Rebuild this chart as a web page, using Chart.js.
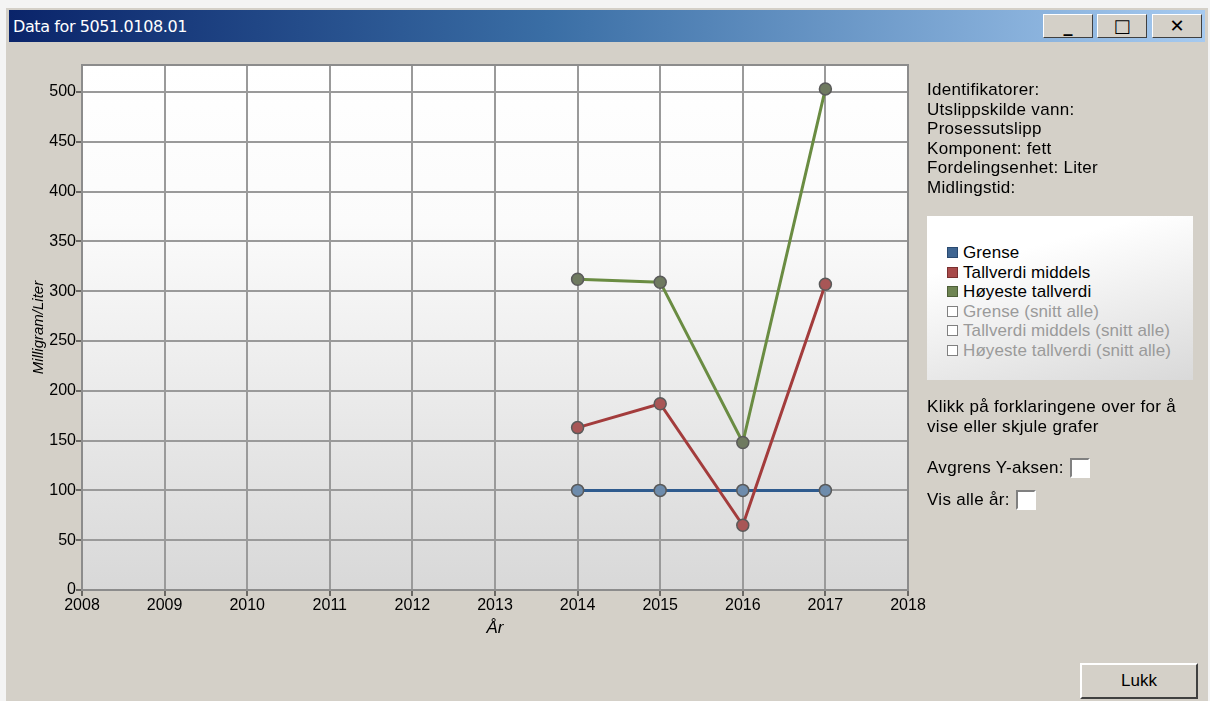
<!DOCTYPE html>
<html>
<head>
<meta charset="utf-8">
<script src="https://cdn.jsdelivr.net/npm/chart.js@4"></script>
<style>
  body { margin: 0; width: 1210px; height: 701px; background: #f4f4f4; overflow: hidden; font-family: "Liberation Sans", Arial, sans-serif; }
  #win { position: absolute; left: 6px; top: 8px; width: 1202px; height: 700px; background: #d4d0c8; }
  #titlebar { position: absolute; left: 3px; top: 2px; width: 1196px; height: 32px;
    background: linear-gradient(to right, #0a246a 0%, #3a6ea5 45%, #a6caf0 100%); }
  #titlebar span { position: absolute; left: 4px; top: 7px; color: #fff; font: 16px "DejaVu Sans", sans-serif; letter-spacing: -0.4px; }
  .tb { position: absolute; top: 4px; width: 50px; height: 24px; background: #d4d0c8;
    border: 1px solid #fff; border-right-color: #404040; border-bottom-color: #404040; box-sizing: border-box;
    font: bold 18px "DejaVu Sans", sans-serif; text-align: center; line-height: 22px; color: #000; }
  #canvasWrap { position: absolute; left: 8px; top: 42px; width: 920px; height: 620px; }
  .info { position: absolute; left: 927px; color: #000; font-size: 17px; line-height: 19.6px; letter-spacing: 0.3px; white-space: nowrap; }
  #legend { position: absolute; left: 927px; top: 216px; width: 266px; height: 164px;
    background: linear-gradient(165deg, #ffffff 25%, #d9d9d9 100%); }
  .li { position: absolute; left: 20px; font-size: 17px; line-height: 19.6px; white-space: nowrap; letter-spacing: 0.1px; }
  .li i { display: inline-block; width: 11px; height: 11px; margin-right: 5px; vertical-align: 0px; box-sizing: border-box; }
  .cb { display: inline-block; width: 20px; height: 20px; background: #fff; box-sizing: border-box;
    border: 2px solid #808080; border-right-color: #fff; border-bottom-color: #fff; vertical-align: -5px; margin-left: 6px; }
  #lukk { position: absolute; left: 1080px; top: 663px; width: 118px; height: 36px; background: #d4d0c8;
    border: 2px solid #fff; border-right-color: #404040; border-bottom-color: #404040; box-sizing: border-box;
    text-align: center; line-height: 32px; font-size: 17px; }
</style>
</head>
<body>
<div id="win">
  <div id="titlebar"><span>Data for 5051.0108.01</span>
    <div class="tb" style="left:1034px">_</div>
    <div class="tb" style="left:1088px">&#9633;</div>
    <div class="tb" style="left:1143px">&#10005;</div>
  </div>
</div>
<div id="canvasWrap"><canvas id="chart" width="920" height="620"></canvas></div>

<div class="info" style="top:80px">Identifikatorer:<br>Utslippskilde vann:<br>Prosessutslipp<br>Komponent: fett<br>Fordelingsenhet: Liter<br>Midlingstid:</div>

<div id="legend">
  <div class="li" style="top:27px"><i style="background:#3f6591;border:1px solid #2a4a70"></i>Grense</div>
  <div class="li" style="top:46.6px"><i style="background:#a84a4a;border:1px solid #7a3030"></i>Tallverdi middels</div>
  <div class="li" style="top:66.2px"><i style="background:#6e8452;border:1px solid #4d5e38"></i>Høyeste tallverdi</div>
  <div class="li" style="top:85.8px;color:#9a9a9a"><i style="border:1px solid #808080;background:#fff"></i>Grense (snitt alle)</div>
  <div class="li" style="top:105.4px;color:#9a9a9a"><i style="border:1px solid #808080;background:#fff"></i>Tallverdi middels (snitt alle)</div>
  <div class="li" style="top:125px;color:#9a9a9a"><i style="border:1px solid #808080;background:#fff"></i>Høyeste tallverdi (snitt alle)</div>
</div>

<div class="info" style="top:397px">Klikk på forklaringene over for å<br>vise eller skjule grafer</div>
<div class="info" style="top:458px">Avgrens Y-aksen:<span class="cb"></span></div>
<div class="info" style="top:490px">Vis alle år:<span class="cb"></span></div>
<div id="lukk">Lukk</div>

<script>
const years = [2014, 2015, 2016, 2017];
const grense = [100, 100, 100, 100];
const tallverdiMiddels = [163, 187, 65, 307];
const hoyesteTallverdi = [312, 309, 148, 503];
const yTicks = [0, 50, 100, 150, 200, 250, 300, 350, 400, 450, 500];
const xMin = 2008, xMax = 2018, yMax = 527;

const pts = vals => vals.map((v, i) => ({ x: years[i], y: v }));

const plotBg = {
  id: "plotBg",
  beforeDraw(chart) {
    const { ctx, chartArea: a } = chart;
    const g = ctx.createLinearGradient(0, a.top, 0, a.bottom);
    g.addColorStop(0, "#ffffff");
    g.addColorStop(0.3, "#fbfbfb");
    g.addColorStop(1, "#d8d8d8");
    ctx.save();
    ctx.fillStyle = g;
    ctx.fillRect(a.left, a.top, a.right - a.left, a.bottom - a.top);
    ctx.restore();
  },
  afterDraw(chart) {
    const { ctx, chartArea: a } = chart;
    ctx.save();
    ctx.strokeStyle = "#8c8c8c";
    ctx.lineWidth = 2;
    ctx.strokeRect(a.left, a.top, a.right - a.left, a.bottom - a.top);
    ctx.restore();
  }
};

const font = { family: "'Liberation Sans', Arial, sans-serif", size: 16 };

new Chart(document.getElementById("chart"), {
  type: "line",
  data: {
    datasets: [
      { label: "Grense", data: pts(grense), borderColor: "#2f5b8e", backgroundColor: "#6e8cac",
        pointBorderColor: "#5a5a5a" },
      { label: "Tallverdi middels", data: pts(tallverdiMiddels), borderColor: "#a33c3c", backgroundColor: "#a85656",
        pointBorderColor: "#5a5a5a" },
      { label: "Høyeste tallverdi", data: pts(hoyesteTallverdi), borderColor: "#6a8c42", backgroundColor: "#6f7a60",
        pointBorderColor: "#5a5a5a" }
    ].reverse().map(d => Object.assign(d, { borderWidth: 3, pointRadius: 6, pointBorderWidth: 1.5, tension: 0 }))
  },
  options: {
    responsive: false,
    animation: false,
    layout: { padding: { left: 22, right: 20, top: 23, bottom: 24 } },
    plugins: { legend: { display: false }, tooltip: { enabled: false } },
    scales: {
      x: {
        type: "linear", min: xMin, max: xMax,
        afterFit: s => { s.height = 48; },
        ticks: { stepSize: 1, color: "#000", font, padding: 0, maxRotation: 0, callback: v => String(v) },
        grid: { color: "#9a9a9a", lineWidth: 2, tickLength: 6, tickColor: "#000", tickWidth: 1 },
        border: { display: false },
        title: { display: true, text: "År", color: "#000", font: { ...font, size: 17, style: "italic" }, padding: { top: 0, bottom: 0 } }
      },
      y: {
        min: 0, max: yMax,
        afterFit: s => { s.width = 52; },
        afterBuildTicks: s => { s.ticks = yTicks.map(v => ({ value: v })); },
        ticks: { color: "#000", font, padding: 0 },
        grid: { color: "#9a9a9a", lineWidth: 2, tickLength: 6, tickColor: "#000", tickWidth: 1 },
        border: { display: false },
        title: { display: true, text: "Milligram/Liter", color: "#000", font: { ...font, size: 15, style: "italic" }, padding: 0 }
      }
    }
  },
  plugins: [plotBg]
});
</script>
</body>
</html>
